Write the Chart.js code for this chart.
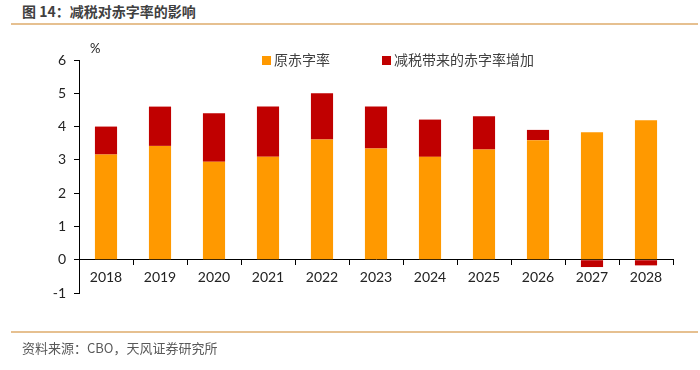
<!DOCTYPE html>
<html>
<head>
<meta charset="utf-8">
<script src="https://cdn.jsdelivr.net/npm/chart.js@4"></script>
<style>
  body { margin: 0; background: #fff; font-family: "Noto Sans CJK SC", sans-serif; }
  #wrap { position: relative; width: 700px; height: 370px; }
  #c { position: absolute; left: 0; top: 0; }
  .title { position: absolute; left: 22px; top: 1px; font-size: 14px; font-weight: bold; color: #404040; }
  .rule { position: absolute; left: 11px; right: 2px; height: 2px; background: #e6c090; }
  .src { position: absolute; left: 22px; top: 338px; font-size: 13px; color: #595959; }
  .unit { position: absolute; left: 90px; top: 40px; font-size: 13px; font-family: Lato, sans-serif; color: #222; }
  #legend { position: absolute; top: 49px; left: 262px; font-size: 14px; color: #404040; }
  #legend span.item { position: absolute; white-space: nowrap; }
  #legend i { display: inline-block; width: 9px; height: 9px; margin-right: 3px; vertical-align: 0px; }
</style>
</head>
<body>
<div id="wrap">
  <div class="title">图 14：减税对赤字率的影响</div>
  <div class="rule" style="top:23px"></div>
  <canvas id="c" width="700" height="370"></canvas>
  <div class="unit">%</div>
  <div id="legend"></div>
  <div class="rule" style="top:331px"></div>
  <div class="src">资料来源：CBO，天风证券研究所</div>
</div>
<script>
// 数据
const years = ['2018', '2019', '2020', '2021', '2022', '2023', '2024', '2025', '2026', '2027', '2028'];
const baseDeficit = [3.16, 3.42, 2.94, 3.09, 3.61, 3.34, 3.09, 3.31, 3.59, 3.83, 4.19];
const taxCutAdd = [0.84, 1.18, 1.46, 1.51, 1.39, 1.26, 1.12, 1.00, 0.31, -0.22, -0.17];
const yTicks = [-1, 0, 1, 2, 3, 4, 5, 6];

const names = ['原赤字率', '减税带来的赤字率增加'];
const colors = ['#FF9900', '#C00000'];

const chart = new Chart(document.getElementById('c'), {
  type: 'bar',
  data: {
    labels: years,
    datasets: [
      { label: names[0], data: baseDeficit, backgroundColor: colors[0] },
      { label: names[1], data: taxCutAdd, backgroundColor: colors[1] }
    ]
  },
  options: {
    responsive: false,
    animation: false,
    layout: { padding: { left: 39, right: 27, top: 60, bottom: 77 } },
    plugins: { legend: { display: false }, tooltip: { enabled: false } },
    datasets: { bar: { categoryPercentage: 1, barPercentage: 0.41 } },
    scales: {
      x: {
        stacked: true,
        position: { y: 0 },
        grid: { drawOnChartArea: false, drawTicks: true, tickLength: 5, color: '#000', offset: true },
        border: { color: '#000', width: 1 },
        ticks: { color: '#222', font: { family: 'Lato', size: 14 }, padding: 4 }
      },
      y: {
        stacked: true,
        min: yTicks[0],
        max: yTicks[yTicks.length - 1],
        afterFit: s => { s.width = 40; },
        afterBuildTicks: s => { s.ticks = yTicks.map(v => ({ value: v })); },
        grid: { drawOnChartArea: false, drawTicks: true, tickLength: 5, color: '#000' },
        border: { color: '#000', width: 1 },
        ticks: { color: '#222', font: { family: 'Lato', size: 14 }, padding: 8 }
      }
    }
  }
});

// 图例
const lg = document.getElementById('legend');
const offsets = [0, 120];
names.forEach((n, i) => {
  const s = document.createElement('span');
  s.className = 'item';
  s.style.left = offsets[i] + 'px';
  s.innerHTML = '<i style="background:' + colors[i] + '"></i>' + n;
  lg.appendChild(s);
});
</script>
</body>
</html>
